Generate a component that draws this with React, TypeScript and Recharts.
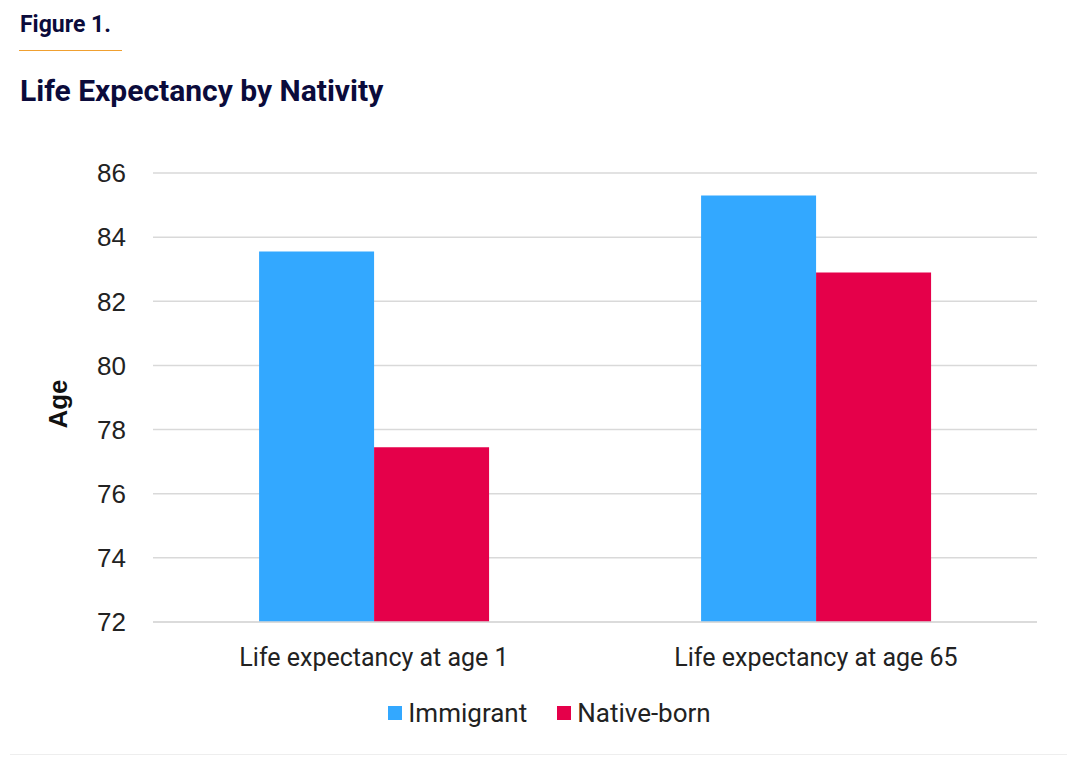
import React from 'react';
import { BarChart, Bar, XAxis, YAxis, CartesianGrid, Legend } from 'recharts';

const categories = ['Life expectancy at age 1', 'Life expectancy at age 65'];
const immigrant = [83.55, 85.3];
const nativeBorn = [77.45, 82.9];
const yTicks = [72, 74, 76, 78, 80, 82, 84, 86];

const data = categories.map((name, i) => ({
    name,
    immigrant: immigrant[i],
    nativeBorn: nativeBorn[i],
}));

const BLUE = '#33a8ff';
const RED = '#e5004a';
const NAVY = '#0b0b3b';

const legendItems = [
    { label: 'Immigrant', color: BLUE },
    { label: 'Native-born', color: RED },
];

const LegendContent = () => (
    <div style={{ display: 'flex', justifyContent: 'center', alignItems: 'center', gap: 30, paddingLeft: 32, fontFamily: 'Roboto, sans-serif', fontSize: 26, color: '#222' }}>
        {legendItems.map(item => (
            <div key={item.label} style={{ display: 'flex', alignItems: 'center' }}>
                <span style={{ display: 'inline-block', width: 14, height: 14, background: item.color, marginRight: 6 }} />
                <span>{item.label}</span>
            </div>
        ))}
    </div>
);

const App: React.FC = () => {
    return (
        <div style={{ position: 'absolute', left: 0, top: 0, width: 1067, height: 757, background: '#fff', overflow: 'hidden' }}>
            <div style={{ position: 'absolute', left: 20, top: 11, fontFamily: 'Roboto, sans-serif', fontWeight: 700, fontSize: 23, color: NAVY }}>
                Figure 1.
            </div>
            <div style={{ position: 'absolute', left: 19, top: 50, width: 103, height: 1, background: '#f0a030' }} />
            <div style={{ position: 'absolute', left: 20, top: 73, fontFamily: 'Roboto, sans-serif', fontWeight: 700, fontSize: 30, color: NAVY }}>
                Life Expectancy by Nativity
            </div>
            <div style={{ position: 'absolute', left: 10, top: 754, width: 1057, height: 1, background: '#eeeeee' }} />

            <div style={{ position: 'absolute', left: 0, top: 0 }}>
                <BarChart
                    width={1067}
                    height={757}
                    data={data}
                    margin={{ top: 173, right: 30, bottom: 105, left: 93 }}
                    barCategoryGap="24%"
                    barGap={0}
                >
                    <CartesianGrid vertical={false} stroke="#d9d9d9" strokeWidth={1.5} />
                    <XAxis
                        dataKey="name"
                        height={30}
                        axisLine={{ stroke: '#d9d9d9', strokeWidth: 1.5 }}
                        tickLine={false}
                        tickSize={0}
                        tickMargin={26}
                        tick={{ fontFamily: 'Roboto, sans-serif', fontSize: 25, fill: '#222' }}
                    />
                    <YAxis
                        width={60}
                        domain={[72, 86]}
                        ticks={yTicks}
                        allowDataOverflow
                        axisLine={false}
                        tickLine={false}
                        tickSize={0}
                        tickMargin={27}
                        tick={{ fontFamily: '"Liberation Sans", Arial, sans-serif', fontSize: 26, fill: '#222' }}
                    />
                    <Legend
                        verticalAlign="middle"
                        align="center"
                        content={<LegendContent />}
                        wrapperStyle={{ top: 698, left: 0, width: 1067 }}
                    />
                    <Bar dataKey="immigrant" name="Immigrant" fill={BLUE} isAnimationActive={false} />
                    <Bar dataKey="nativeBorn" name="Native-born" fill={RED} isAnimationActive={false} />
                </BarChart>
            </div>

            <div
                style={{
                    position: 'absolute',
                    left: 58,
                    top: 404,
                    transform: 'translate(-50%, -50%) rotate(-90deg)',
                    fontFamily: '"Liberation Sans", Arial, sans-serif',
                    fontWeight: 700,
                    fontSize: 26,
                    color: '#111',
                }}
            >
                Age
            </div>
        </div>
    );
};

export default App;
